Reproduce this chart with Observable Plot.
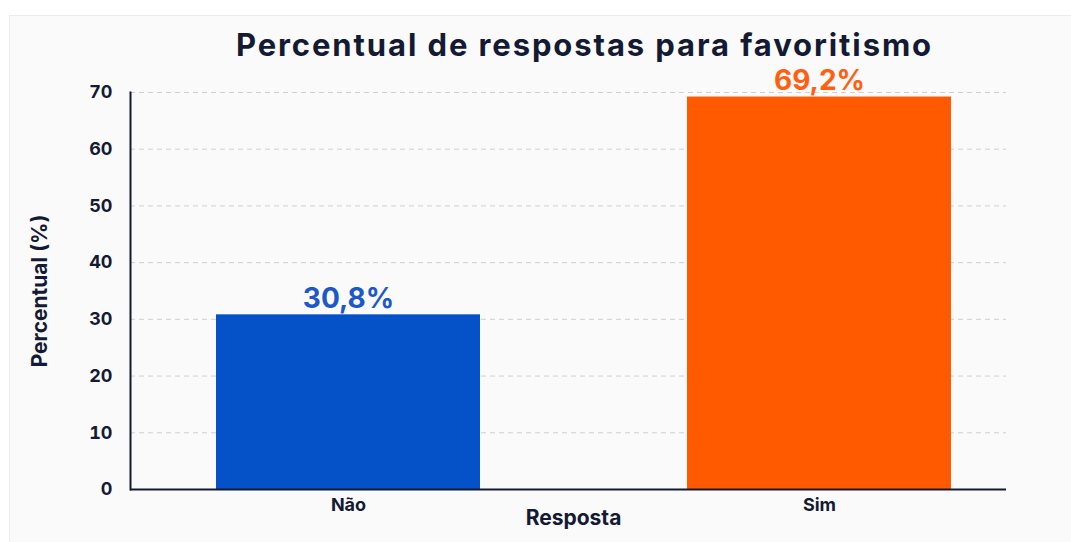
<!DOCTYPE html>
<html>
<head>
<meta charset="utf-8">
<script src="https://cdn.jsdelivr.net/npm/d3@7"></script>
<script src="https://cdn.jsdelivr.net/npm/@observablehq/plot@0.6"></script>
<style>
  html, body { margin: 0; padding: 0; background: #ffffff; }
  #wrap { position: relative; width: 1071px; height: 542px; overflow: hidden; font-family: Inter, "Open Sans", sans-serif; }
  #card { position: absolute; left: 9px; top: 15px; width: 1070px; height: 540px; background: #fafafa; border: 1px solid #ececec; box-sizing: border-box; }
  #title { position: absolute; left: 98px; width: 973px; top: 26px; text-align: center; font-size: 31px; font-weight: 700; color: #141a33; letter-spacing: 1.9px; }
  #chart { position: absolute; left: 0; top: 0; }
</style>
</head>
<body>
<div id="wrap">
  <div id="card"></div>
  <div id="chart"></div>
  <div id="title">Percentual de respostas para favoritismo</div>
</div>
<script>
const categories = ["Não", "Sim"];
const values = [30.8, 69.2];
const barColors = ["#0552c8", "#ff5a00"];
const labelColors = ["#1d58c9", "#ff6010"];
const yTicks = [0, 10, 20, 30, 40, 50, 60, 70];
const xLabel = "Resposta";
const yLabel = "Percentual (%)";

const data = categories.map((c, i) => ({category: c, value: values[i], bar: barColors[i], label: labelColors[i]}));
const fmt = v => v.toFixed(1).replace(".", ",") + "%";
const ink = "#141a33";

const chart = Plot.plot({
  width: 1071,
  height: 542,
  marginTop: 92,
  marginBottom: 53,
  marginLeft: 130,
  marginRight: 65,
  style: {background: "transparent", fontFamily: "Inter, 'Open Sans', sans-serif", color: ink, overflow: "visible"},
  x: {type: "band", domain: categories, paddingInner: 0.44, paddingOuter: 0.148, align: 0.61},
  y: {domain: [0, 70]},
  marks: [
    Plot.gridY(yTicks, {stroke: "#cfcfcf", strokeOpacity: 1, strokeDasharray: "5,4", strokeWidth: 1}),
    Plot.barY(data, {x: "category", y: "value", fill: "bar"}),
    Plot.ruleY([0], {stroke: ink, strokeWidth: 2}),
    Plot.frame({anchor: "left", stroke: ink, strokeWidth: 2}),
    Plot.axisY({ticks: yTicks, tickSize: 0, tickPadding: 18, label: null, fontSize: 18, fontWeight: 700, fill: ink, tickFormat: d => d, ariaLabel: "y-axis tick label"}),
    Plot.axisX({tickSize: 0, tickPadding: 9, label: null, fontSize: 18, fontWeight: 700, fill: ink, ariaLabel: "x-axis tick label"}),
    Plot.text(data, {x: "category", y: "value", text: d => fmt(d.value), fill: "label", dy: -16, fontSize: 28, fontWeight: 700, ariaLabel: "value-label"}),
    Plot.text([yLabel], {frameAnchor: "left", textAnchor: "middle", dx: -90, rotate: -90, fontSize: 21, fontWeight: 700, fill: ink, ariaLabel: "y-title"}),
    Plot.text([xLabel], {frameAnchor: "bottom", dy: 35, dx: 5, fontSize: 21, fontWeight: 700, fill: ink, ariaLabel: "x-title"})
  ]
});
d3.select(chart).selectAll("g[aria-label='value-label'] text").style("letter-spacing", "3px");
d3.select(chart).selectAll("g[aria-label='x-axis tick label'] text").style("letter-spacing", "1.5px");
d3.select(chart).selectAll("g[aria-label='x-title'] text").style("letter-spacing", "2px");
d3.select(chart).selectAll("g[aria-label='y-title'] text").style("letter-spacing", "0.5px");
document.getElementById("chart").appendChild(chart);
</script>
</body>
</html>
